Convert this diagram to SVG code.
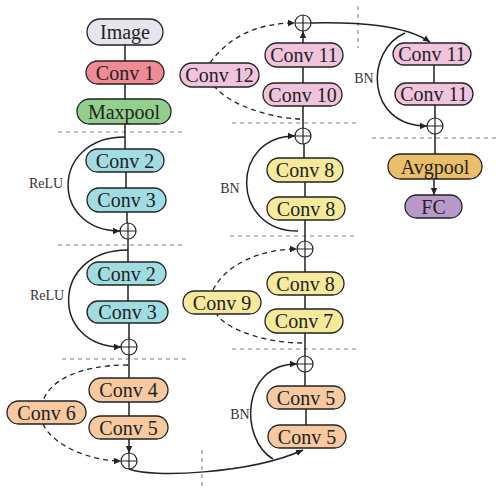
<svg xmlns="http://www.w3.org/2000/svg" width="497" height="490" viewBox="0 0 497 490">
<style>
.n rect{stroke:#222;stroke-width:1.3}
.n text{font-family:"Liberation Serif","Times New Roman",serif;font-size:20px;fill:#222;text-anchor:middle}
.lbl{font-family:"Liberation Serif","Times New Roman",serif;font-size:14px;fill:#333;text-anchor:middle}
.img{fill:#e6e5ee}.red{fill:#f08a94}.grn{fill:#92cf8c}.cyn{fill:#a0dce2}.pch{fill:#f6c9a0}.yel{fill:#f5ea9c}.pnk{fill:#f0c4dc}.org{fill:#ebbf68}.pur{fill:#b89ac9}
.sep{stroke:#aaa;stroke-width:1.5;stroke-dasharray:4 4;fill:none}
.c{stroke:#222;stroke-width:1.5;fill:none}
.d{stroke:#222;stroke-width:1.3;fill:none;stroke-dasharray:5 4}
.plus circle{fill:#fff;stroke:#222;stroke-width:1.2}
.plus path{stroke:#222;stroke-width:1.2}
</style>
<defs>
<marker id="a" markerWidth="8" markerHeight="8" refX="7" refY="4" orient="auto" markerUnits="userSpaceOnUse">
<path d="M0,0.8 L7,4 L0,7.2 z" fill="#222"/>
</marker>
</defs>
<g id="separators">
<path class="sep" d="M58,132H185M58,245H185M62,359H188M230,236H355M232,349H358M232,123H358M372,138H497M358,6V48M202,450V490"/>
</g>
<g id="connectors">
<path class="c" marker-end="url(#a)" d="M125,45V61M125,84V99M125,124V149M126,172V188M127,212V223M128,239V262M128,285V301M129,323V339M129,355V378M129,402V416M129,439V453"/>
<path class="c" marker-end="url(#a)" d="M306,425V409M305,386V372M305,356V333M305,309V295M305,272V257M305,241V220M305,197V182M304,158V144M303,128V106M303,83V67M303,43V31"/>
<path class="c" marker-end="url(#a)" d="M434,65V83M435,105V118M435,134V154M434,179V195"/>
<path class="c" marker-end="url(#a)" d="M125,137C50,137 50,231 120,231"/>
<path class="c" marker-end="url(#a)" d="M128,250C50,250 50,347 121,347"/>
<path class="c" marker-end="url(#a)" d="M129,469C150,478 250,474 303,450"/>
<path class="c" marker-end="url(#a)" d="M273,459C240,440 240,364 297,364"/>
<path class="c" marker-end="url(#a)" d="M298,231C230,231 230,136 295,136"/>
<path class="c" marker-end="url(#a)" d="M311,23C360,22 405,25 430,42"/>
<path class="c" marker-end="url(#a)" d="M405,33C365,50 365,126 427,126"/>
<path class="d" d="M128,365C80,365 50,380 43,401"/>
<path class="d" marker-end="url(#a)" d="M43,424C52,445 90,461 121,461"/>
<path class="d" d="M302,343C270,343 230,332 217,315"/>
<path class="d" marker-end="url(#a)" d="M213,290C225,265 260,249 297,249"/>
<path class="d" d="M300,119C270,118 230,105 215,87"/>
<path class="d" marker-end="url(#a)" d="M210,63C230,35 260,23 295,23"/>
<text class="lbl" x="46" y="188">ReLU</text>
<text class="lbl" x="47" y="300">ReLU</text>
<text class="lbl" x="230" y="193">BN</text>
<text class="lbl" x="240" y="419">BN</text>
<text class="lbl" x="364" y="83">BN</text>
</g>
<g class="plus" id="add1"><circle cx="128" cy="231" r="8"/><path d="M120,231H136M128,223V239"/></g>
<g class="plus" id="add2"><circle cx="129" cy="347" r="8"/><path d="M121,347H137M129,339V355"/></g>
<g class="plus" id="add3"><circle cx="129" cy="461" r="8"/><path d="M121,461H137M129,453V469"/></g>
<g class="plus" id="add4"><circle cx="305" cy="364" r="8"/><path d="M297,364H313M305,356V372"/></g>
<g class="plus" id="add5"><circle cx="305" cy="249" r="8"/><path d="M297,249H313M305,241V257"/></g>
<g class="plus" id="add6"><circle cx="303" cy="136" r="8"/><path d="M295,136H311M303,128V144"/></g>
<g class="plus" id="add7"><circle cx="303" cy="23" r="8"/><path d="M295,23H311M303,15V31"/></g>
<g class="plus" id="add8"><circle cx="435" cy="126" r="8"/><path d="M427,126H443M435,118V134"/></g>
<g class="n" id="image"><rect class="img" x="87" y="19" width="76" height="26" rx="13"/><text x="125" y="39">Image</text></g>
<g class="n" id="conv1"><rect class="red" x="86" y="61" width="78" height="23" rx="11.5"/><text x="125" y="79.5">Conv 1</text></g>
<g class="n" id="maxpool"><rect class="grn" x="77" y="99" width="94" height="25" rx="12.5"/><text x="124" y="118.5">Maxpool</text></g>
<g class="n" id="conv2a"><rect class="cyn" x="86" y="149" width="78" height="23" rx="11.5"/><text x="125" y="167.5">Conv 2</text></g>
<g class="n" id="conv3a"><rect class="cyn" x="87" y="188" width="79" height="24" rx="12"/><text x="126.5" y="207">Conv 3</text></g>
<g class="n" id="conv2b"><rect class="cyn" x="87" y="262" width="79" height="23" rx="11.5"/><text x="126.5" y="280.5">Conv 2</text></g>
<g class="n" id="conv3b"><rect class="cyn" x="87" y="301" width="81" height="22" rx="11"/><text x="127.5" y="319">Conv 3</text></g>
<g class="n" id="conv4"><rect class="pch" x="89" y="378" width="79" height="24" rx="12"/><text x="128.5" y="397">Conv 4</text></g>
<g class="n" id="conv5a"><rect class="pch" x="89" y="416" width="79" height="23" rx="11.5"/><text x="128.5" y="434.5">Conv 5</text></g>
<g class="n" id="conv6"><rect class="pch" x="7" y="401" width="79" height="23" rx="11.5"/><text x="46.5" y="419.5">Conv 6</text></g>
<g class="n" id="conv5b"><rect class="pch" x="268" y="425" width="78" height="23" rx="11.5"/><text x="307" y="443.5">Conv 5</text></g>
<g class="n" id="conv5c"><rect class="pch" x="267" y="386" width="78" height="23" rx="11.5"/><text x="306" y="404.5">Conv 5</text></g>
<g class="n" id="conv7"><rect class="yel" x="265" y="309" width="78" height="24" rx="12"/><text x="304" y="328">Conv 7</text></g>
<g class="n" id="conv8a"><rect class="yel" x="267" y="272" width="77" height="23" rx="11.5"/><text x="305.5" y="290.5">Conv 8</text></g>
<g class="n" id="conv9"><rect class="yel" x="183" y="291" width="78" height="23" rx="11.5"/><text x="222" y="309.5">Conv 9</text></g>
<g class="n" id="conv8b"><rect class="yel" x="267" y="197" width="78" height="23" rx="11.5"/><text x="306" y="215.5">Conv 8</text></g>
<g class="n" id="conv8c"><rect class="yel" x="267" y="158" width="76" height="24" rx="12"/><text x="305" y="177">Conv 8</text></g>
<g class="n" id="conv10"><rect class="pnk" x="263" y="83" width="79" height="23" rx="11.5"/><text x="302.5" y="101.5">Conv 10</text></g>
<g class="n" id="conv11a"><rect class="pnk" x="265" y="43" width="78" height="24" rx="12"/><text x="304" y="62">Conv 11</text></g>
<g class="n" id="conv12"><rect class="pnk" x="180" y="63" width="79" height="24" rx="12"/><text x="219.5" y="82">Conv 12</text></g>
<g class="n" id="conv11b"><rect class="pnk" x="393" y="43" width="78" height="22" rx="11"/><text x="432" y="61">Conv 11</text></g>
<g class="n" id="conv11c"><rect class="pnk" x="395" y="83" width="78" height="22" rx="11"/><text x="434" y="101">Conv 11</text></g>
<g class="n" id="avgpool"><rect class="org" x="388" y="154" width="94" height="25" rx="12.5"/><text x="435" y="173.5">Avgpool</text></g>
<g class="n" id="fc"><rect class="pur" x="405" y="195" width="57" height="23" rx="11.5"/><text x="433.5" y="213.5">FC</text></g>
</svg>
